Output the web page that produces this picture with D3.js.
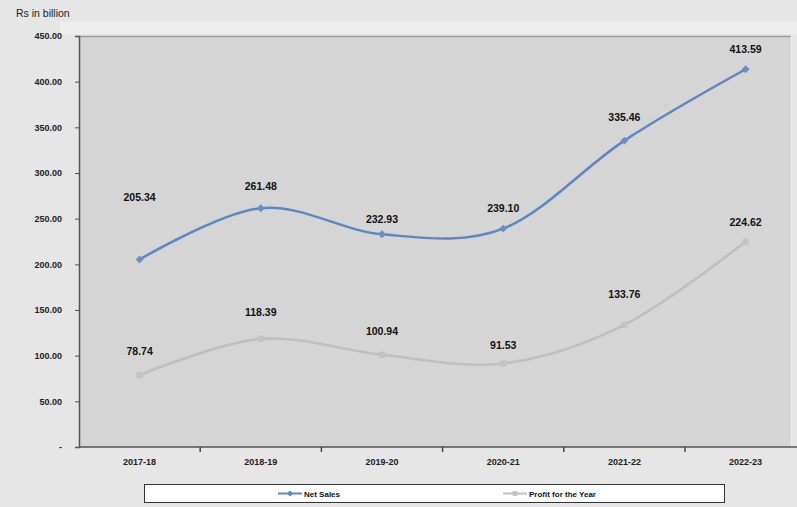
<!DOCTYPE html>
<html>
<head>
<meta charset="utf-8">
<script src="https://cdn.jsdelivr.net/npm/d3@7/dist/d3.min.js"></script>
<style>
  html, body { margin: 0; padding: 0; background: #e6e6e6; }
  svg { display: block; font-family: Arial, "Liberation Sans", sans-serif; }
</style>
</head>
<body>
<svg id="chart" width="797" height="507"></svg>
<script>
// Financial years shown on the x axis
const years = ["2017-18", "2018-19", "2019-20", "2020-21", "2021-22", "2022-23"];
// Rs in billion
const netSales = [205.34, 261.48, 232.93, 239.10, 335.46, 413.59];
const profitForYear = [78.74, 118.39, 100.94, 91.53, 133.76, 224.62];
// Y axis ticks
const yTicks = [0, 50, 100, 150, 200, 250, 300, 350, 400, 450];
// How far each value label sits above its point (px)
const salesLabelLift = [62, 22, 15, 21, 24, 20];
const profitLabelLift = [24, 27, 24, 18, 31, 20];

const svg = d3.select("#chart");
const W = 797, H = 507;
const plot = { left: 79, top: 36, right: 791, bottom: 447 };
const bandWidth = 121.2;

// background bands
svg.append("rect").attr("x", 0).attr("y", 0).attr("width", W).attr("height", H).attr("fill", "#e6e6e6");
svg.append("rect").attr("x", 60).attr("y", 22).attr("width", W - 60).attr("height", 12).attr("fill", "#eeeeee");

const x = d3.scaleBand()
  .domain(years)
  .range([plot.left, plot.left + bandWidth * years.length]);
const y = d3.scaleLinear().domain([0, 450]).range([plot.bottom, plot.top]);

// plot area
svg.append("rect")
  .attr("x", plot.left).attr("y", plot.top)
  .attr("width", plot.right - plot.left).attr("height", plot.bottom - plot.top)
  .attr("fill", "#d5d5d5");
svg.append("line")
  .attr("x1", plot.left).attr("x2", plot.right)
  .attr("y1", plot.top + 0.5).attr("y2", plot.top + 0.5)
  .attr("stroke", "#9a9a9a").attr("stroke-width", 1.5);
svg.append("line")
  .attr("x1", plot.right + 0.5).attr("x2", plot.right + 0.5)
  .attr("y1", plot.top).attr("y2", plot.bottom)
  .attr("stroke", "#ececec").attr("stroke-width", 1.5);

// title
svg.append("text")
  .attr("x", 16).attr("y", 17)
  .attr("font-size", 10.5).attr("fill", "#222")
  .text("Rs in billion");

// y axis
const yAxis = d3.axisLeft(y)
  .tickValues(yTicks)
  .tickSize(4)
  .tickPadding(13)
  .tickFormat(d => d === 0 ? "-" : d3.format(".2f")(d));
const gy = svg.append("g").attr("transform", `translate(${plot.left},0)`).call(yAxis);
gy.select(".domain").attr("stroke", "#555").attr("stroke-width", 1.5);
gy.selectAll(".tick line").attr("stroke", "#555");
gy.selectAll(".tick text").attr("font-size", 9).attr("font-weight", "bold").attr("fill", "#222");

// x axis
const xAxis = d3.axisBottom(x).tickSize(0).tickPadding(12);
const gx = svg.append("g").attr("transform", `translate(0,${plot.bottom})`).call(xAxis);
gx.select(".domain").remove();
gx.selectAll(".tick text").attr("font-size", 9).attr("font-weight", "bold").attr("fill", "#222");
svg.append("line")
  .attr("x1", plot.left).attr("x2", W)
  .attr("y1", plot.bottom).attr("y2", plot.bottom)
  .attr("stroke", "#555").attr("stroke-width", 1.5);
svg.append("g").selectAll("line")
  .data(years.slice(1))
  .join("line")
  .attr("x1", d => x(d)).attr("x2", d => x(d))
  .attr("y1", plot.bottom).attr("y2", plot.bottom + 5)
  .attr("stroke", "#444").attr("stroke-width", 1.5);

const cx = d => x(d) + x.bandwidth() / 2;
const line = d3.line().curve(d3.curveCardinal.tension(0));

function drawSeries(values, color, markerColor, symbolType, lifts) {
  const pts = values.map((v, i) => [cx(years[i]), y(v)]);
  svg.append("path")
    .attr("d", line(pts))
    .attr("fill", "none")
    .attr("stroke", color)
    .attr("stroke-width", 2.5);
  svg.append("g").selectAll("path")
    .data(pts)
    .join("path")
    .attr("transform", d => `translate(${d[0]},${d[1]})`)
    .attr("d", d3.symbol().type(symbolType).size(40))
    .attr("fill", markerColor);
  svg.append("g").selectAll("text")
    .data(values)
    .join("text")
    .attr("x", (v, i) => cx(years[i]))
    .attr("y", (v, i) => y(v) - lifts[i] + 4)
    .attr("text-anchor", "middle")
    .attr("font-size", 10.5).attr("font-weight", "bold").attr("fill", "#111")
    .text(v => d3.format(".2f")(v));
}

drawSeries(netSales, "#5b87c2", "#6a8fc4", d3.symbolDiamond2, salesLabelLift);
drawSeries(profitForYear, "#bfbfbf", "#c4c4c4", d3.symbolSquare, profitLabelLift);

// legend
const lg = svg.append("g");
lg.append("rect")
  .attr("x", 144.5).attr("y", 484.5).attr("width", 580).attr("height", 18)
  .attr("fill", "#ffffff").attr("stroke", "#333").attr("stroke-width", 1);
const legendItems = [
  { name: "Net Sales", color: "#5b87c2", sym: d3.symbolDiamond2, x0: 278 },
  { name: "Profit for the Year", color: "#bfbfbf", sym: d3.symbolSquare, x0: 503 }
];
legendItems.forEach(it => {
  lg.append("line")
    .attr("x1", it.x0).attr("x2", it.x0 + 24)
    .attr("y1", 493.5).attr("y2", 493.5)
    .attr("stroke", it.color).attr("stroke-width", 2);
  lg.append("path")
    .attr("transform", `translate(${it.x0 + 12},493.5)`)
    .attr("d", d3.symbol().type(it.sym).size(22))
    .attr("fill", it.color);
  lg.append("text")
    .attr("x", it.x0 + 26).attr("y", 497)
    .attr("font-size", 8).attr("font-weight", "bold").attr("fill", "#111")
    .text(it.name);
});
</script>
</body>
</html>
